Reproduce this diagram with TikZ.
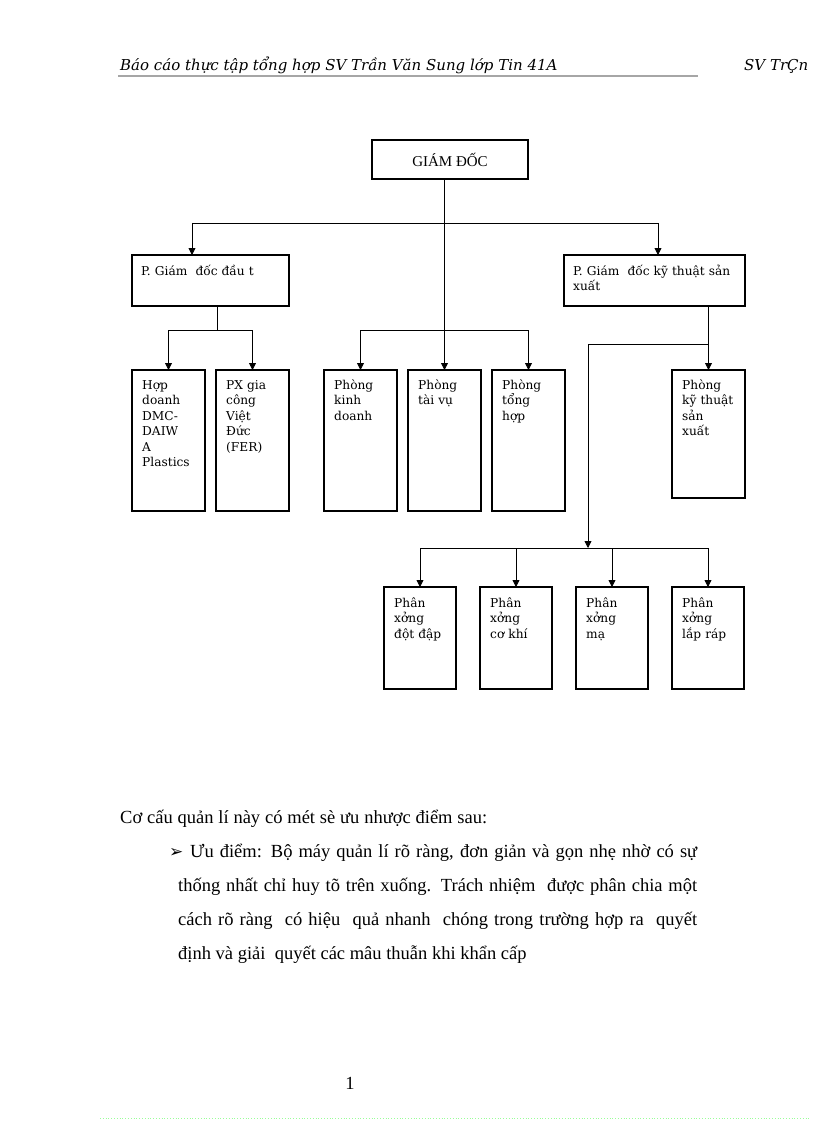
\documentclass[tikz,border=0pt]{standalone}
\usepackage{fontspec}
\setmainfont{Liberation Serif}
\newfontfamily\boxfont{DejaVu Serif}
\newfontfamily\hdrfont{DejaVu Serif}
\newfontfamily\symfont{DejaVu Sans}
\usetikzlibrary{arrows.meta}
\begin{document}
\begin{tikzpicture}[x=1pt,y=-1pt,
  box/.style={draw, line width=1.4pt, inner sep=0pt, outer sep=0pt, anchor=north west},
  lbl/.style={anchor=base west, inner sep=0pt, align=left, text width=#1,
    font=\boxfont\fontsize{12.2}{15.5}\selectfont},
  lbl/.default=66pt,
  conn/.style={line width=0.8pt},
  arr/.style={conn, -{Triangle[length=7pt,width=7pt]}},
  hdr/.style={anchor=base west, inner sep=0pt, font=\hdrfont\itshape\fontsize{15}{17}\selectfont},
  body/.style={inner sep=0pt, font=\fontsize{18.5}{34}\selectfont}]
\useasboundingbox (0,0) rectangle (816,1123);
\fill[white] (0,0) rectangle (816,1123);

% header
\node[hdr] (h1) at (120,71) {Báo cáo thực tập tổng hợp SV Trần Văn Sung lớp Tin 41A};
\node[hdr] (h2) at (744,71) {SV TrÇn};
\draw[line width=2pt, gray!70] (118,76) -- (698,76);

% boxes
\node[box, minimum width=156pt, minimum height=39pt] (gd) at (372,140) {};
\node[font=\fontsize{15}{17}\selectfont] at (gd.center) {GIÁM ĐỐC};

\node[box, minimum width=157pt, minimum height=51pt] (p1) at (132,255) {};
\node[lbl=145pt] at ([xshift=9pt,yshift=-20pt]p1.north west) {P. Giám \ đốc đầu t};
\node[box, minimum width=181pt, minimum height=51pt] (p2) at (564,255) {};
\node[lbl=172pt] at ([xshift=9pt,yshift=-20pt]p2.north west) {P. Giám \ đốc kỹ thuật sản\\xuất};

\node[box, minimum width=73pt, minimum height=141pt] (hd) at (132,370) {};
\node[lbl] at ([xshift=10pt,yshift=-19pt]hd.north west) {Hợp\\doanh\\DMC-\\DAIW\\A\\Plastics};
\node[box, minimum width=73pt, minimum height=141pt] (px) at (216,370) {};
\node[lbl] at ([xshift=10pt,yshift=-19pt]px.north west) {PX gia\\công\\Việt\\Đức\\(FER)};

\node[box, minimum width=73pt, minimum height=141pt] (pkd) at (324,370) {};
\node[lbl] at ([xshift=10pt,yshift=-19pt]pkd.north west) {Phòng\\kinh\\doanh};
\node[box, minimum width=73pt, minimum height=141pt] (ptv) at (408,370) {};
\node[lbl] at ([xshift=10pt,yshift=-19pt]ptv.north west) {Phòng\\tài vụ};
\node[box, minimum width=73pt, minimum height=141pt] (pth) at (492,370) {};
\node[lbl] at ([xshift=10pt,yshift=-19pt]pth.north west) {Phòng\\tổng\\hợp};

\node[box, minimum width=73pt, minimum height=128pt] (pkt) at (672,370) {};
\node[lbl] at ([xshift=10pt,yshift=-19pt]pkt.north west) {Phòng\\kỹ thuật\\sản\\xuất};

\node[box, minimum width=72pt, minimum height=102pt] (x1) at (384,587) {};
\node[lbl] at ([xshift=10pt,yshift=-20pt]x1.north west) {Phân\\xởng\\đột đập};
\node[box, minimum width=72pt, minimum height=102pt] (x2) at (480,587) {};
\node[lbl] at ([xshift=10pt,yshift=-20pt]x2.north west) {Phân\\xởng\\cơ khí};
\node[box, minimum width=72pt, minimum height=102pt] (x3) at (576,587) {};
\node[lbl] at ([xshift=10pt,yshift=-20pt]x3.north west) {Phân\\xởng\\mạ};
\node[box, minimum width=72pt, minimum height=102pt] (x4) at (672,587) {};
\node[lbl] at ([xshift=10pt,yshift=-20pt]x4.north west) {Phân\\xởng\\lắp ráp};

% connectors
\coordinate (j1) at (444,223);
\coordinate (a1) at (192,223);
\coordinate (a2) at (658,223);
\draw[arr] (ptv.north |- gd.south) -- (ptv.north);
\draw[conn] (a1) -- (a2);
\draw[arr] (a1) -- (a1 |- p1.north);
\draw[arr] (a2) -- (a2 |- p2.north);

\coordinate (b0) at (217,330);
\draw[conn] (b0 |- p1.south) -- (b0);
\draw[arr] (b0) -| (hd.north);
\draw[arr] (b0) -| (px.north);

\coordinate (c0) at (444,330);
\draw[arr] (c0) -| (pkd.north);
\draw[arr] (c0) -| (pth.north);

\draw[arr] (pkt.north |- p2.south) -- (pkt.north);
\coordinate (d0) at (588,344);
\coordinate (e0) at (588,548);
\draw[conn] (pkt.north |- d0) -- (d0);
\draw[arr] (d0) -- (e0);
\draw[conn] (e0 -| x1.north) -- (e0 -| x4.north);
\draw[arr] (e0 -| x1.north) -- (x1.north);
\draw[arr] (e0 -| x2.north) -- (x2.north);
\draw[arr] (e0 -| x3.north) -- (x3.north);
\draw[arr] (e0 -| x4.north) -- (x4.north);

% body text
\node[body, anchor=base west] (t1) at (120,823) {\makebox[367pt][s]{Cơ cấu quản lí này có mét sè ưu nhược điểm sau:}};
\node[body, anchor=base west, font=\symfont\fontsize{17}{19}\selectfont] (bul) at (169,857) {➢};
\node[body, anchor=base west, text width=519pt, align=justify] (t2) at (178,857)
 {\hspace*{12pt}Ưu điểm: Bộ máy quản lí rõ ràng, đơn giản và gọn nhẹ nhờ có sự\linebreak
 thống nhất chỉ huy tõ trên xuống. Trách nhiệm \ được phân chia một\linebreak
 cách rõ ràng \ có hiệu \ quả nhanh \ chóng trong trường hợp ra \ quyết\linebreak
 định và giải \ quyết các mâu thuẫn khi khẩn cấp};

\node[body, anchor=base] (pg) at (350,1089) {1};
\draw[green!40, line width=0.8pt, dotted] (100,1118) -- (810,1118);
\end{tikzpicture}
\end{document}
